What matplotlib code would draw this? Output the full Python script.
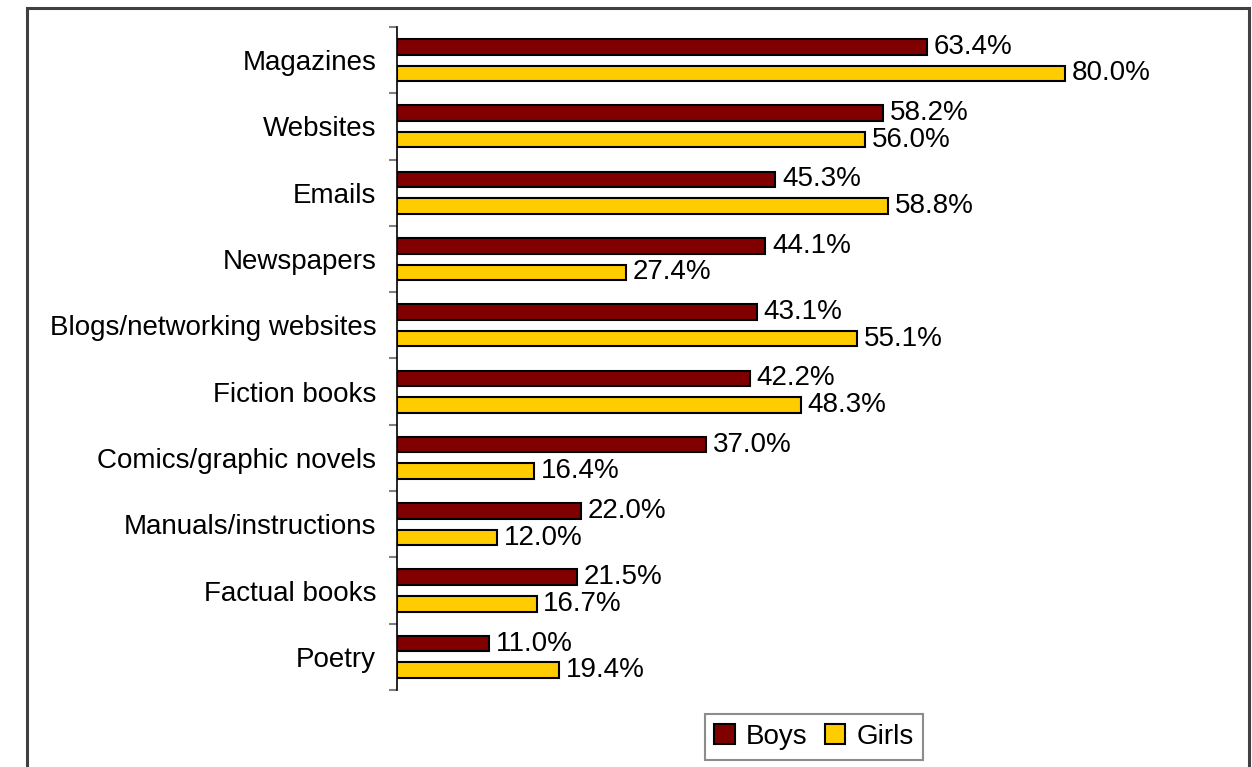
import matplotlib.pyplot as plt
import numpy as np
from matplotlib.patches import Rectangle

plt.rcParams['font.family'] = ['Liberation Sans', 'DejaVu Sans']

categories = ['Magazines', 'Websites', 'Emails', 'Newspapers',
              'Blogs/networking websites', 'Fiction books',
              'Comics/graphic novels', 'Manuals/instructions',
              'Factual books', 'Poetry']
boys = [63.4, 58.2, 45.3, 44.1, 43.1, 42.2, 37.0, 22.0, 21.5, 11.0]
girls = [80.0, 56.0, 58.8, 27.4, 55.1, 48.3, 16.4, 12.0, 16.7, 19.4]

fig = plt.figure(figsize=(12.52, 7.67), dpi=100)
ax = fig.add_axes([0.3171, 0.1004, 0.6006, 0.8644])

y = np.arange(len(categories))
h = 0.235
off = 0.2
bb = ax.barh(y - off, boys, height=h, color='#800000', edgecolor='black',
             linewidth=1.5, label='Boys')
gb = ax.barh(y + off, girls, height=h, color='#FFCC00', edgecolor='black',
             linewidth=1.5, label='Girls')

for bars, vals in ((bb, boys), (gb, girls)):
    for b, v in zip(bars, vals):
        ax.text(v + 0.8, b.get_y() + b.get_height() / 2, f'{v:.1f}%',
                va='center', ha='left', fontsize=20)

ax.set_xlim(0, 90)
ax.set_ylim(len(categories) - 0.5, -0.5)
ax.set_yticks(y)
ax.set_yticklabels(categories, fontsize=20)
ax.tick_params(axis='y', which='major', length=0, pad=15)
ax.set_yticks(np.arange(len(categories) + 1) - 0.5, minor=True)
ax.tick_params(axis='y', which='minor', length=6, width=1.5, color='#808080')
ax.set_xticks([])
for s in ('top', 'right', 'bottom'):
    ax.spines[s].set_visible(False)
ax.spines['left'].set_linewidth(1.2)

leg = fig.legend(loc='center', bbox_to_anchor=(814 / 1252, 1 - 737 / 767),
                 ncol=2, fontsize=20, frameon=True, fancybox=False,
                 handlelength=0.75, handleheight=0.75, handletextpad=0.4,
                 columnspacing=0.6, borderpad=0.35)
leg.get_frame().set_edgecolor('#707070')
leg.get_frame().set_linewidth(1.5)

# outer chart border, open at the bottom edge
fig.patches.append(Rectangle((26.5 / 1252, -0.05), (1249 - 26.5) / 1252,
                             1.05 - 7.5 / 767, transform=fig.transFigure,
                             fill=False, edgecolor='#404040', linewidth=2.2))

fig.savefig('out.png', dpi=100)
